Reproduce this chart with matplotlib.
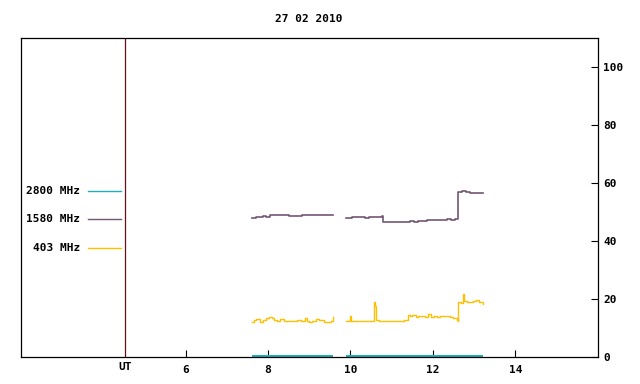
import numpy as np
import matplotlib
matplotlib.use("Agg")
import matplotlib.pyplot as plt

plt.rcParams['font.family'] = ['DejaVu Sans Mono']
plt.rcParams['font.weight'] = 'bold'
plt.rcParams['font.size'] = 8

# 1580 MHz (purple), two segments
t1580_a = [7.61, 7.66, 7.72, 7.80, 7.88, 7.96, 8.05, 8.15, 8.25, 8.37, 8.45,
           8.52, 8.62, 8.72, 8.82, 8.94, 9.05, 9.18, 9.28, 9.40, 9.50, 9.57]
v1580_a = [48.0, 48.0, 48.3, 48.4, 48.5, 48.4, 49.0, 49.1, 49.0, 49.1, 48.9,
           48.7, 48.6, 48.7, 48.8, 48.8, 49.0, 49.1, 48.9, 49.1, 49.0, 49.1]
t1580_b = [9.90, 9.96, 10.05, 10.15, 10.25, 10.35, 10.45, 10.55, 10.65, 10.77,
           10.78, 10.85, 10.95, 11.05, 11.15, 11.25, 11.37, 11.45, 11.55, 11.65,
           11.75, 11.85, 11.95, 12.05, 12.15, 12.25, 12.35, 12.45, 12.54, 12.60,
           12.62, 12.70, 12.80, 12.91, 13.00, 13.10, 13.21]
v1580_b = [48.0, 47.9, 48.2, 48.1, 48.3, 48.0, 48.2, 48.2, 48.3, 48.5,
           46.5, 46.6, 46.4, 46.6, 46.4, 46.4, 46.6, 46.9, 46.7, 46.8,
           46.9, 47.2, 47.3, 47.2, 47.1, 47.3, 47.4, 47.3, 47.6, 48.0,
           57.0, 57.1, 56.8, 56.7, 56.4, 56.6, 56.7]

# 403 MHz (orange), two segments
t403_a = [7.61, 7.66, 7.72, 7.80, 7.87, 7.95, 8.02, 8.09, 8.15, 8.22, 8.30,
          8.40, 8.50, 8.60, 8.70, 8.80, 8.90, 8.95, 9.00, 9.08, 9.16, 9.25,
          9.35, 9.45, 9.52, 9.56, 9.57]
v403_a = [12.0, 12.6, 12.9, 12.1, 12.6, 13.4, 13.6, 13.5, 12.6, 12.4, 12.9,
          12.4, 12.5, 12.4, 12.7, 12.5, 13.2, 12.4, 12.0, 12.4, 12.9, 12.7,
          12.1, 12.1, 12.4, 12.5, 13.8]
t403_b = [9.90, 9.96, 9.99, 10.02, 10.10, 10.20, 10.30, 10.40, 10.50, 10.56,
          10.57, 10.59, 10.62, 10.70, 10.80, 10.90, 11.00, 11.10, 11.20, 11.30,
          11.39, 11.40, 11.45, 11.50, 11.58, 11.65, 11.72, 11.80, 11.88, 11.95,
          12.02, 12.10, 12.18, 12.26, 12.34, 12.42, 12.50, 12.58, 12.61, 12.62,
          12.68, 12.73, 12.74, 12.76, 12.82, 12.90, 12.98, 13.05, 13.12, 13.21]
v403_b = [12.4, 12.3, 14.0, 12.4, 12.3, 12.4, 12.4, 12.3, 12.4, 12.5,
          18.9, 17.5, 12.6, 12.4, 12.3, 12.3, 12.3, 12.4, 12.5, 12.8,
          12.8, 14.5, 13.9, 14.3, 13.6, 13.9, 14.0, 13.7, 14.6, 13.8,
          13.9, 13.6, 14.2, 13.9, 14.1, 13.6, 13.3, 12.7, 12.4, 19.0,
          18.7, 18.9, 21.7, 19.1, 18.8, 18.9, 19.4, 19.6, 19.0, 18.3]

# 2800 MHz (cyan)
t2800 = [[7.61, 9.57], [9.90, 13.21]]
v2800 = [[0.3, 0.3], [0.3, 0.3]]

legend_labels = ['2800 MHz', '1580 MHz', '403 MHz']
legend_y = [57.2, 47.5, 37.5]

purple = '#735673'
orange = '#ffc000'
cyan = '#20b0b8'
colors = [cyan, purple, orange]

fig = plt.figure(figsize=(6.4, 3.84), dpi=100)
ax = fig.add_axes([0.0323, 0.0711, 0.9016, 0.8292])

for t, v in zip(t2800, v2800):
    ax.plot(t, v, color=cyan, lw=1.5, solid_capstyle='butt')
ax.plot(t1580_a, v1580_a, color=purple, lw=1.2, drawstyle='steps-post')
ax.plot(t1580_b, v1580_b, color=purple, lw=1.2, drawstyle='steps-post')
ax.plot(t403_a, v403_a, color=orange, lw=1.0, drawstyle='steps-post')
ax.plot(t403_b, v403_b, color=orange, lw=1.0, drawstyle='steps-post')

# legend drawn inside plot on the left
for lab, y, c in zip(legend_labels, legend_y, colors):
    ax.text(3.45, y, lab, ha='right', va='center', fontsize=8, fontweight='bold')
    ax.plot([3.64, 4.43], [y, y], color=c, lw=1.0)

# UT marker
ax.axvline(4.54, color='#6a0f1a', lw=0.9)
ax.text(4.54, -1.8, 'UT', ha='center', va='top', fontsize=8, fontweight='bold')

ax.set_xlim(2, 16)
ax.set_ylim(0, 110)
ax.set_xticks([6, 8, 10, 12, 14])
ax.set_yticks([0, 20, 40, 60, 80, 100])
ax.yaxis.tick_right()
ax.tick_params(axis='both', direction='in', length=5, width=0.8, labelsize=8, pad=4)
ax.tick_params(axis='x', pad=6)
for s in ax.spines.values():
    s.set_linewidth(0.9)

ax.set_title('27 02 2010', fontsize=8, fontweight='bold', pad=12)

fig.savefig('out.png', dpi=100)
